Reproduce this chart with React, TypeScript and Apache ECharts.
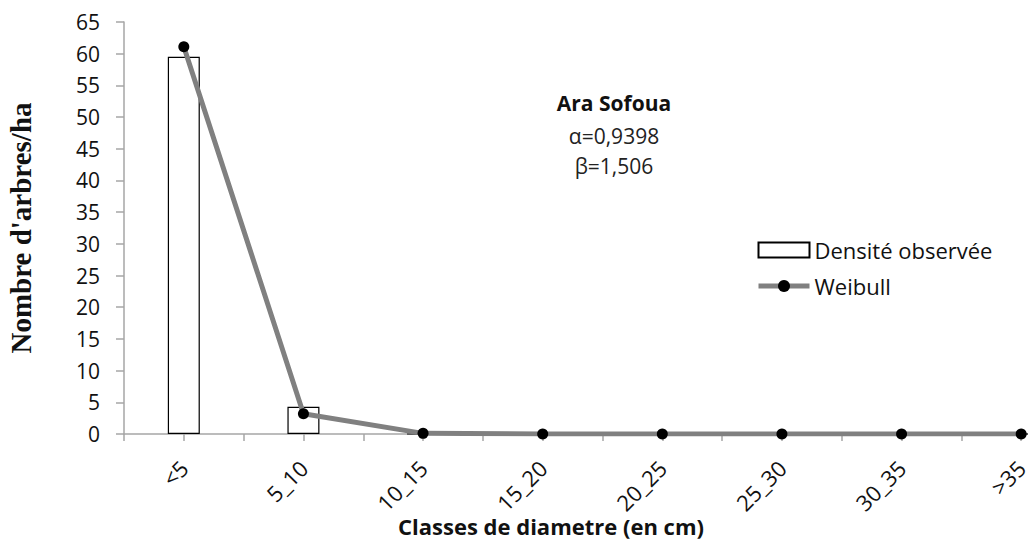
import React, { useEffect, useRef } from "react";
import * as echarts from "echarts";

const categories = ["<5", "5_10", "10_15", "15_20", "20_25", "25_30", "30_35", ">35"];
const observed = [59.5, 4.3, 0, 0, 0, 0, 0, 0];
const weibull = [61.1, 3.2, 0.1, 0, 0, 0, 0, 0];
const yTicks = { min: 0, max: 65, interval: 5 };
const annotation = ["Ara Sofoua", "α=0,9398", "β=1,506"];

const SANS = "'Open Sans', 'Noto Sans', sans-serif";
const AXIS_GRAY = "#a6a6a6";

export default function App() {
  const ref = useRef<HTMLDivElement>(null);
  useEffect(() => {
    if (!ref.current) return;
    const chart = echarts.init(ref.current, null, { renderer: "svg" });
    const gridRect = { left: 124, top: 22, bottom: 110, right: 0, outerBoundsMode: "none", containLabel: false };
    chart.setOption({
      animation: false,
      backgroundColor: "#ffffff",
      grid: [{ ...gridRect }, { ...gridRect }],
      legend: {
        orient: "vertical",
        left: 751,
        top: 234,
        itemWidth: 51,
        itemHeight: 15,
        itemGap: 14,
        textStyle: { fontFamily: SANS, fontSize: 22, color: "#111", lineHeight: 22 },
        data: [
          { name: "Densité observée", icon: "rect" },
          { name: "Weibull", lineStyle: { width: 5, color: "#808080" } },
        ],
      },
      xAxis: [
        {
          type: "category",
          gridIndex: 0,
          data: categories,
          boundaryGap: true,
          axisLine: { lineStyle: { color: AXIS_GRAY, width: 1.5 } },
          axisTick: { show: true, length: 7, lineStyle: { color: AXIS_GRAY, width: 1.5 } },
          axisLabel: {
            rotate: 45,
            margin: 30,
            fontFamily: SANS,
            fontSize: 22,
            color: "#111",
            interval: 0,
          },
          splitLine: { show: false },
        },
        {
          type: "category",
          gridIndex: 1,
          data: categories,
          boundaryGap: true,
          axisLine: { show: false },
          axisTick: { show: true, alignWithLabel: true, length: 7, lineStyle: { color: AXIS_GRAY, width: 1.5 } },
          axisLabel: { show: false },
          splitLine: { show: false },
        },
      ],
      yAxis: [
        {
          type: "value",
          gridIndex: 0,
          min: yTicks.min,
          max: yTicks.max,
          interval: yTicks.interval,
          name: "Nombre d'arbres/ha",
          nameLocation: "middle",
          nameGap: 89,
          nameTextStyle: {
            fontFamily: "'Liberation Serif', 'Times New Roman', serif",
            fontWeight: "bold",
            fontSize: 29,
            color: "#111",
          },
          axisLine: { show: true, lineStyle: { color: AXIS_GRAY, width: 1.5 } },
          axisTick: { show: true, length: 8, lineStyle: { color: AXIS_GRAY, width: 1.5 } },
          axisLabel: { margin: 24, fontFamily: SANS, fontSize: 21, color: "#111" },
          splitLine: { show: false },
        },
        {
          type: "value",
          gridIndex: 1,
          show: false,
          min: 0,
          max: 1,
        },
      ],
      series: [
        {
          name: "Densité observée",
          type: "bar",
          xAxisIndex: 0,
          yAxisIndex: 0,
          data: observed,
          barWidth: 32,
          itemStyle: { color: "#ffffff", borderColor: "#000000", borderWidth: 1.2 },
        },
        {
          name: "Weibull",
          type: "line",
          xAxisIndex: 0,
          yAxisIndex: 0,
          data: weibull,
          symbol: "circle",
          symbolSize: 11,
          showSymbol: true,
          lineStyle: { color: "#808080", width: 5 },
          itemStyle: { color: "#000000" },
          z: 5,
        },
      ],
      graphic: [
        {
          type: "text",
          x: 614,
          y: 103,
          style: {
            text: annotation[0],
            fontFamily: SANS,
            fontWeight: "bold",
            fontSize: 21,
            fill: "#111",
            align: "center",
            verticalAlign: "middle",
          },
        },
        {
          type: "text",
          x: 614,
          y: 136,
          style: {
            text: annotation[1],
            fontFamily: SANS,
            fontSize: 21,
            fill: "#222",
            align: "center",
            verticalAlign: "middle",
          },
        },
        {
          type: "text",
          x: 614,
          y: 166,
          style: {
            text: annotation[2],
            fontFamily: SANS,
            fontSize: 21,
            fill: "#222",
            align: "center",
            verticalAlign: "middle",
          },
        },
        {
          type: "text",
          x: 551,
          y: 526,
          style: {
            text: "Classes de diametre (en cm)",
            fontFamily: SANS,
            fontWeight: "bold",
            fontSize: 22,
            fill: "#111",
            align: "center",
            verticalAlign: "middle",
          },
        },
      ],
    });
    return () => chart.dispose();
  }, []);
  return (
    <div style={{ position: "fixed", left: 0, top: 0, width: 1028, height: 544, overflow: "hidden", background: "#fff" }}>
      <div ref={ref} style={{ width: 1081, height: 544 }} />
    </div>
  );
}
